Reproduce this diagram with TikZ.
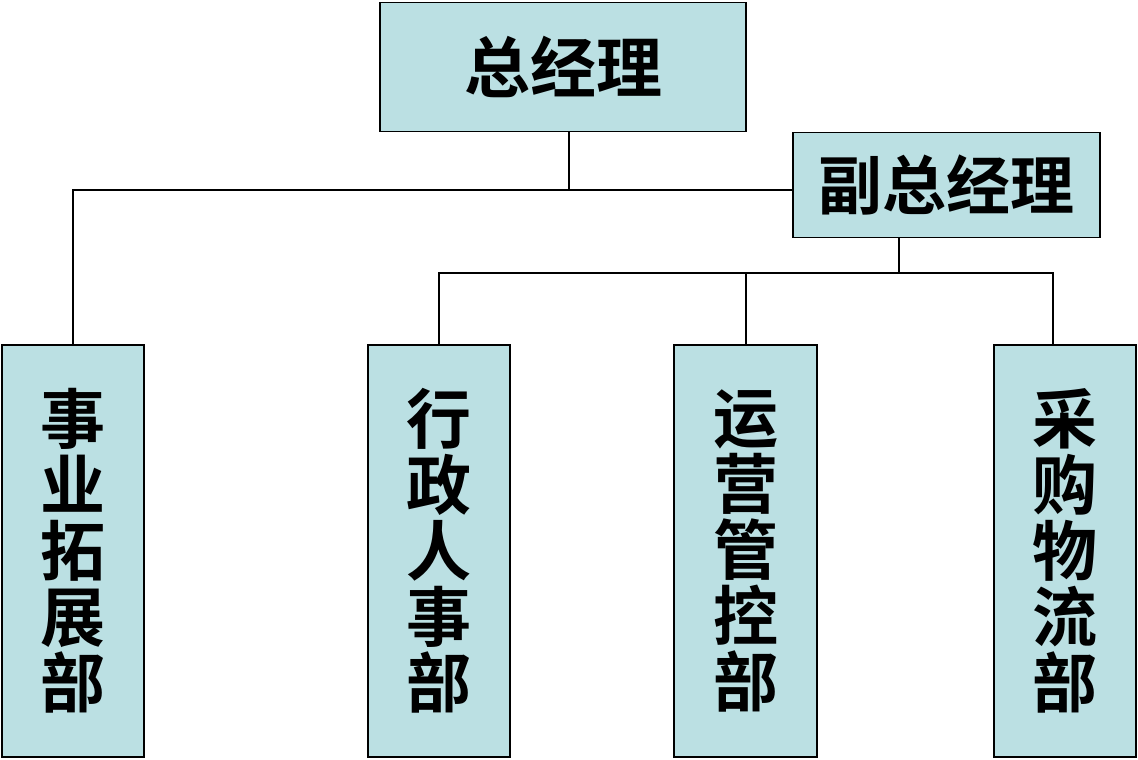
\documentclass[tikz,border=0pt]{standalone}
\usepackage{fontspec}
\newfontfamily\cjk{Noto Sans CJK SC}[BoldFont={Noto Sans CJK SC Bold}]
\definecolor{boxfill}{HTML}{BBE0E3}
\begin{document}
\begin{tikzpicture}[x=1pt,y=-1pt,
  orgbox/.style={draw=black,line width=1.6pt,fill=boxfill,inner sep=0pt,font=\cjk\bfseries},
  conn/.style={draw=black,line width=1.4pt}]
\useasboundingbox (0,0) rectangle (1138,760);
% boxes
\node[orgbox,minimum width=366pt,minimum height=129pt,font=\cjk\bfseries\fontsize{66}{70}\selectfont] (gm) at (563,67) {总经理};
\node[orgbox,minimum width=307pt,minimum height=105pt,font=\cjk\bfseries\fontsize{64}{70}\selectfont] (dgm) at (946.5,185) {副总经理};
\tikzset{dept/.style={orgbox,minimum width=142pt,minimum height=412pt,align=center,font=\cjk\bfseries\fontsize{65}{66}\selectfont}}
\node[dept] (d1) at (73,551) {事\\业\\拓\\展\\部};
\node[dept] (d2) at (439,551) {行\\政\\人\\事\\部};
\node[dept,minimum width=143pt] (d3) at (745.5,551) {运\\营\\管\\控\\部};
\node[dept] (d4) at (1065,551) {采\\购\\物\\流\\部};
% connectors
\coordinate (j1) at (569,190);
\coordinate (j2) at (899,273);
\coordinate (e4) at (1053,273);
\coordinate (e3) at (746,273);
\draw[conn] (gm.south -| j1) -- (j1);
\draw[conn] (d1.north) -- (d1.north |- j1) -- (dgm.west |- j1);
\draw[conn] (dgm.south -| j2) -- (j2);
\draw[conn] (d2.north) -- (d2.north |- j2) -- (e4) -- (d4.north -| e4);
\draw[conn] (e3) -- (d3.north -| e3);
\end{tikzpicture}
\end{document}
